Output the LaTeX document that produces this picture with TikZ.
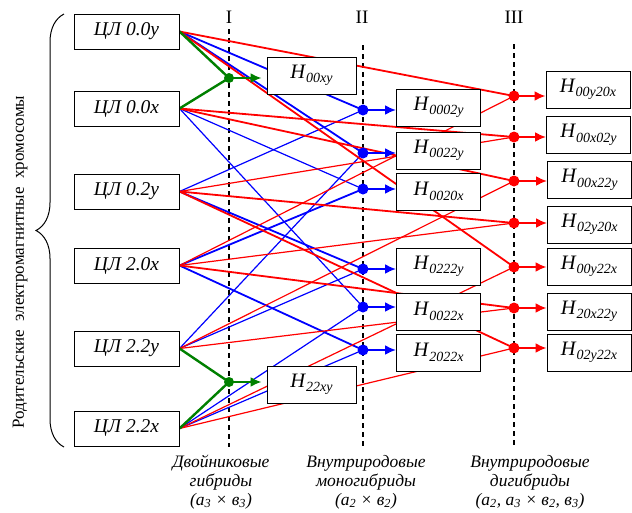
\documentclass[tikz,border=0pt]{standalone}
\usepackage{fontspec}
\setmainfont{Liberation Serif}
\usetikzlibrary{arrows.meta,backgrounds,decorations.pathreplacing}

\newcommand{\hyb}[1]{\textit{H}\raisebox{-4.5pt}{\fontsize{14}{14}\selectfont\itshape #1}}

\tikzset{
  parent/.style={draw,line width=1pt,fill=white,minimum width=105pt,minimum height=35pt,
    inner sep=0pt,font=\fontsize{19.5}{19.5}\selectfont\itshape},
  hybrid/.style={draw,line width=1pt,fill=white,minimum width=84pt,minimum height=37pt,
    inner sep=0pt,font=\fontsize{20.5}{20.5}\selectfont},
  stage/.style={dashed,line width=1.1pt,dash pattern=on 5pt off 4pt},
  thick line/.style={line width=1.8pt},
  thin line/.style={line width=1.2pt},
  greenarr/.style={line width=2pt,color=green!50!black,-{Latex[length=11pt,width=10pt]}},
  bluearr/.style={line width=2pt,color=blue,-{Latex[length=11pt,width=10pt]}},
  redarr/.style={line width=2pt,color=red,-{Latex[length=11pt,width=10pt]}},
  caption/.style={align=center,font=\fontsize{17.5}{19}\selectfont\itshape},
  numeral/.style={font=\fontsize{19}{19}\selectfont}
}

\begin{document}
\begin{tikzpicture}[x=1pt,y=-1pt]

	\useasboundingbox (0,0) rectangle (632,512);

	% parent chromosomes

	\node[parent] (cl00y) at (126.5,31.5) {ЦЛ 0.0y};
	\node[parent] (cl00x) at (126.5,108.5) {ЦЛ 0.0x};
	\node[parent] (cl02y) at (126.5,191.5) {ЦЛ 0.2y};
	\node[parent] (cl20x) at (126.5,265.5) {ЦЛ 2.0x};
	\node[parent] (cl22y) at (126.5,348.5) {ЦЛ 2.2y};
	\node[parent] (cl22x) at (126.5,428.5) {ЦЛ 2.2x};

	\draw[decorate,decoration={brace,amplitude=28pt},line width=1pt] (64,447) -- (64,14);
	\node[rotate=90,font=\fontsize{17}{17}\selectfont] (parents) at (20,262)
		{Родительские\ \ электромагнитные\ \ хромосомы};

	% hybrids

	\node[hybrid,minimum width=89pt] (h00xy) at (311.5,75.5) {\hyb{00xy}};
	\node[hybrid,minimum width=89pt] (h22xy) at (311.5,384.5) {\hyb{22xy}};

	\node[hybrid] (h0002y) at (438.5,107.5) {\hyb{0002y}};
	\node[hybrid] (h0022y) at (438.5,150.5) {\hyb{0022y}};
	\node[hybrid] (h0020x) at (438.5,191.5) {\hyb{0020x}};
	\node[hybrid] (h0222y) at (438.5,266.5) {\hyb{0222y}};
	\node[hybrid] (h0022x) at (438.5,311.5) {\hyb{0022x}};
	\node[hybrid] (h2022x) at (438.5,352.5) {\hyb{2022x}};

	\node[hybrid] (h00y20x) at (588,89.5) {\hyb{00y20x}};
	\node[hybrid] (h00x02y) at (588.5,135) {\hyb{00x02y}};
	\node[hybrid] (h00x22y) at (589.5,180) {\hyb{00x22y}};
	\node[hybrid] (h02y20x) at (589.5,224.5) {\hyb{02y20x}};
	\node[hybrid] (h00y22x) at (589,266.5) {\hyb{00y22x}};
	\node[hybrid] (h20x22y) at (589,311.5) {\hyb{20x22y}};
	\node[hybrid] (h02y22x) at (589,352.5) {\hyb{02y22x}};

	% crossing points

	\coordinate (g1) at (229,78);
	\coordinate (g2) at (229,382);
	\coordinate (b1) at (363,110);
	\coordinate (b2) at (363,153);
	\coordinate (b3) at (363,189);
	\coordinate (b4) at (363,269);
	\coordinate (b5) at (363,307);
	\coordinate (b6) at (363,350);
	\coordinate (r1) at (514,96);
	\coordinate (r2) at (514,137);
	\coordinate (r3) at (514,181);
	\coordinate (r4) at (514,223);
	\coordinate (r5) at (514,267);
	\coordinate (r6) at (514,308);
	\coordinate (r7) at (514,348);

	% stages

	\node[numeral] (s1) at (229,17) {I};
	\node[numeral] (s2) at (362,17) {II};
	\node[numeral] (s3) at (514,17) {III};

	\node[caption] (c1) at (221,482) {Двойниковые\\гибриды\\(\textit{а}\textsubscript{3} × \textit{в}\textsubscript{3})};
	\node[caption] (c2) at (366,482) {Внутриродовые\\моногибриды\\(\textit{а}\textsubscript{2} × \textit{в}\textsubscript{2})};
	\node[caption] (c3) at (530,482) {Внутриродовые\\дигибриды\\(\textit{а}\textsubscript{2}, \textit{а}\textsubscript{3} × \textit{в}\textsubscript{2}, \textit{в}\textsubscript{3})};

	\begin{scope}[on background layer]

	\draw[stage] (229,29) -- (229,447);
	\draw[stage] (363,45) -- (363,447);
	\draw[stage] (514,44) -- (514,445);

	% monohybrids

	\draw[blue,thick line] (cl00y.east) -- (b1);
	\draw[blue,thin line] (cl02y.east) -- (b1);
	\draw[blue,thick line] (cl00y.east) -- (b2);
	\draw[blue,thin line] (cl22y.east) -- (b2);
	\draw[blue,thin line] (cl00x.east) -- (b3);
	\draw[blue,thick line] (cl20x.east) -- (b3);
	\draw[blue,thick line] (cl02y.east) -- (b4);
	\draw[blue,thin line] (cl22y.east) -- (b4);
	\draw[blue,thin line] (cl00x.east) -- (b5);
	\draw[blue,thin line] (cl22x.east) -- (b5);
	\draw[blue,thick line] (cl20x.east) -- (b6);
	\draw[blue,thin line] (cl22x.east) -- (b6);

	% dihybrids

	\draw[red,thick line] (cl00y.east) -- (r1);
	\draw[red,thin line] (cl20x.east) -- (r1);
	\draw[red,thick line] (cl00x.east) -- (r2);
	\draw[red,thin line] (cl02y.east) -- (r2);
	\draw[red,thick line] (cl00x.east) -- (r3);
	\draw[red,thin line] (cl22y.east) -- (r3);
	\draw[red,thick line] (cl02y.east) -- (r4);
	\draw[red,thin line] (cl20x.east) -- (r4);
	\draw[red,thick line] (cl00y.east) -- (r5);
	\draw[red,thin line] (cl22x.east) -- (r5);
	\draw[red,thick line] (cl20x.east) -- (r6);
	\draw[red,thin line] (cl22y.east) -- (r6);
	\draw[red,thick line] (cl02y.east) -- (r7);
	\draw[red,thin line] (cl22x.east) -- (r7);

	% twin hybrids

	\draw[green!50!black,line width=2.4pt] (cl00y.east) -- (g1) -- (cl00x.east);
	\draw[green!50!black,line width=2.4pt] (cl22y.east) -- (g2) -- (cl22x.east);

	\end{scope}

	\draw[greenarr] (g1) -- ([xshift=-5pt]g1 -| h00xy.west);
	\draw[greenarr] (g2) -- ([xshift=-5pt]g2 -| h22xy.west);

	\foreach \d/\h in {b1/h0002y,b2/h0022y,b3/h0020x,b4/h0222y,b5/h0022x,b6/h2022x}
		\draw[bluearr] (\d) -- (\d -| \h.west);
	\foreach \d/\h in {r1/h00y20x,r2/h00x02y,r3/h00x22y,r4/h02y20x,r5/h00y22x,r6/h20x22y,r7/h02y22x}
		\draw[redarr] (\d) -- (\d -| \h.west);

	\fill[green!50!black] (g1) circle (5pt) (g2) circle (5pt);
	\foreach \d in {b1,b2,b3,b4,b5,b6}
		\fill[blue] (\d) circle (5.5pt);
	\foreach \d in {r1,r2,r3,r4,r5,r6,r7}
		\fill[red] (\d) circle (5.5pt);

\end{tikzpicture}
\end{document}
